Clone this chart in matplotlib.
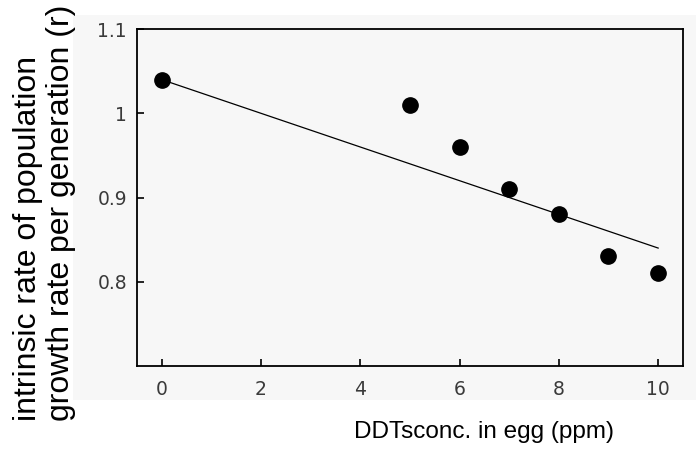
import matplotlib
matplotlib.use("Agg")
import matplotlib.pyplot as plt
from matplotlib.patches import Rectangle

# --- data ---
ddt_ppm = [0, 5, 6, 7, 8, 9, 10]
growth_r = [1.04, 1.01, 0.96, 0.91, 0.88, 0.83, 0.81]

# trend line as drawn (two end points)
trend_x = [0, 10]
trend_y = [1.04, 0.84]

x_ticks = [0, 2, 4, 6, 8, 10]
y_ticks = [0.8, 0.9, 1.0, 1.1]
y_tick_labels = ['0.8', '0.9', '1', '1.1']

plt.rcParams['font.family'] = ['Liberation Sans', 'DejaVu Sans']

fig = plt.figure(figsize=(6.96, 4.54), dpi=100)
fig.patch.set_facecolor('white')

# light grey panel behind the axes and tick labels
fig.patches.append(Rectangle((73 / 696, 1 - 400 / 454), 1 - 73 / 696, (400 - 15) / 454,
                             transform=fig.transFigure, facecolor='#f7f7f7',
                             edgecolor='none', zorder=-5))

ax = fig.add_axes([0.1964, 0.1938, 0.9813 - 0.1964, 0.9361 - 0.1938])
ax.set_facecolor('#f7f7f7')

ax.plot(trend_x, trend_y, color='black', linewidth=0.9, zorder=2)
ax.plot(ddt_ppm, growth_r, 'o', color='black', markersize=11, zorder=3)

ax.set_xlim(-0.5, 10.5)
ax.set_ylim(0.7, 1.1)
ax.set_xticks(x_ticks)
ax.set_yticks(y_ticks)
ax.set_yticklabels(y_tick_labels)

for side in ['top', 'right', 'bottom', 'left']:
    ax.spines[side].set_linewidth(1.3)
ax.tick_params(direction='in', length=5, width=1.2, colors='black',
               top=False, right=False)
ax.tick_params(axis='x', pad=10)
ax.tick_params(axis='y', pad=7)
for lbl in ax.get_xticklabels() + ax.get_yticklabels():
    lbl.set_color('#3a3a3a')
    lbl.set_family('DejaVu Sans')
    lbl.set_fontsize(13.5)

fig.text(0.6957, 0.048, 'DDTsconc. in egg (ppm)', fontsize=17.5, ha='center', va='center')
fig.text(0.0635, 1 - 421 / 454, 'intrinsic rate of population\ngrowth rate per generation (r)',
         fontsize=23, rotation=90, ha='center', va='bottom', multialignment='left',
         linespacing=1.12)

fig.savefig('out.png', dpi=100, facecolor=fig.get_facecolor())
